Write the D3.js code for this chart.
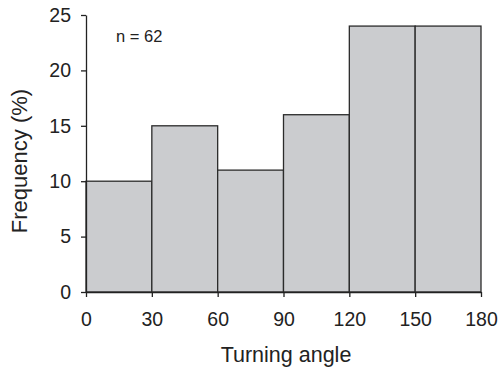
<!DOCTYPE html>
<html>
<head>
<meta charset="utf-8">
<script src="https://cdn.jsdelivr.net/npm/d3@7"></script>
<style>
  body { margin: 0; background: #fff; }
  svg { display: block; font-family: "Liberation Sans", Arial, sans-serif; }
</style>
</head>
<body>
<svg width="498" height="372"></svg>
<script>
// bin edges and frequency (%) per bin
var binStarts = [0, 30, 60, 90, 120, 150];
var binWidth = 30;
var frequencies = [10, 15, 11, 16, 24, 24];
var xTicks = [0, 30, 60, 90, 120, 150, 180];
var yTicks = [0, 5, 10, 15, 20, 25];

var svg = d3.select('svg');
var svgWidth = +svg.attr('width');
var svgHeight = +svg.attr('height');

var padding = {t: 15, r: 17, b: 80, l: 86};
var chartWidth = svgWidth - padding.l - padding.r;
var chartHeight = svgHeight - padding.t - padding.b;

var chartG = svg.append('g')
    .attr('transform', 'translate(' + [padding.l, padding.t] + ')');

var xScale = d3.scaleLinear().domain([0, 180]).range([0, chartWidth]);
var yScale = d3.scaleLinear().domain([0, 25]).range([chartHeight, 0]);

var bins = binStarts.map(function(s, i) {
    return {x0: s, x1: s + binWidth, value: frequencies[i]};
});

chartG.selectAll('.bar')
    .data(bins)
    .enter()
    .append('rect')
    .attr('class', 'bar')
    .attr('x', function(d) { return xScale(d.x0); })
    .attr('y', function(d) { return yScale(d.value); })
    .attr('width', function(d) { return xScale(d.x1) - xScale(d.x0); })
    .attr('height', function(d) { return chartHeight - yScale(d.value); })
    .attr('fill', '#cbcccf')
    .attr('stroke', '#2b2b2b')
    .attr('stroke-width', 1.3);

var xAxis = d3.axisBottom(xScale).tickValues(xTicks).tickSize(5).tickSizeOuter(0).tickPadding(15);
var yAxis = d3.axisLeft(yScale).tickValues(yTicks).tickSize(5).tickSizeOuter(0).tickPadding(10);

var xG = chartG.append('g')
    .attr('transform', 'translate(0,' + chartHeight + ')')
    .call(xAxis);
var yG = chartG.append('g').call(yAxis);

[xG, yG].forEach(function(g) {
    g.selectAll('path, line').attr('stroke', '#222').attr('stroke-width', 1.3);
    g.selectAll('text')
        .attr('fill', '#222')
        .style('font-family', '"Liberation Sans", Arial, sans-serif')
        .style('font-size', '19.5px');
});

svg.append('text')
    .attr('x', 286)
    .attr('y', 362)
    .attr('text-anchor', 'middle')
    .attr('fill', '#222')
    .style('font-size', '21.5px')
    .text('Turning angle');

svg.append('text')
    .attr('transform', 'translate(27,161) rotate(-90)')
    .attr('text-anchor', 'middle')
    .attr('fill', '#222')
    .style('font-size', '22px')
    .text('Frequency (%)');

chartG.append('text')
    .attr('x', xScale(13.7))
    .attr('y', yScale(22.6))
    .attr('fill', '#222')
    .style('font-size', '16.5px')
    .text('n = 62');
</script>
</body>
</html>
